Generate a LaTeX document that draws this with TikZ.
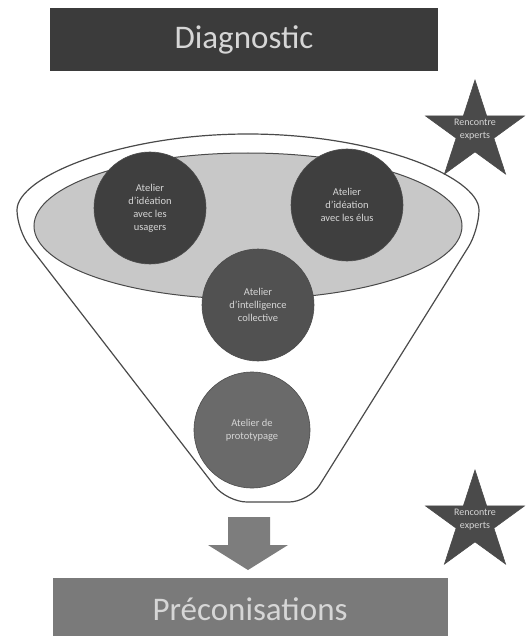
\documentclass[tikz,border=0pt]{standalone}
\usepackage{fontspec}
\setmainfont{Carlito}
\usetikzlibrary{shapes.geometric}
\definecolor{diagc}{HTML}{3B3B3B}
\definecolor{precc}{HTML}{7A7A7A}
\definecolor{arrowc}{HTML}{7D7D7D}
\definecolor{cdark}{HTML}{3F3F3F}
\definecolor{cmid}{HTML}{515151}
\definecolor{clight}{HTML}{6A6A6A}
\definecolor{starc}{HTML}{4A4A4A}
\definecolor{ellc}{HTML}{C8C8C8}
\definecolor{linec}{HTML}{4A4A4A}
\definecolor{txtc}{HTML}{D6D6D6}
\begin{document}
\begin{tikzpicture}[x=1pt,y=-1pt,
  banner/.style={rectangle, inner sep=0pt, draw=none},
  bannertext/.style={anchor=base, text=txtc, font=\fontsize{33}{36}\selectfont},
  circ/.style={circle, inner sep=0pt, minimum size=112pt, draw=black!70, line width=0.6pt,
    text=txtc, align=center, font=\fontsize{10.5}{13}\selectfont},
  starbox/.style={star, star points=5, star point ratio=2.618, minimum size=104pt, inner sep=0pt,
    fill=starc, draw=black!70, line width=0.6pt},
  startext/.style={text=txtc, align=center, font=\fontsize{10}{13}\selectfont},
  funnel/.style={draw=linec, line width=1.2pt, fill=white},
]
\useasboundingbox (0,0) rectangle (531,639);
% banners
\node[banner, fill=diagc, minimum width=388pt, minimum height=63pt] (diag) at (244,39.5) {};
\node[bannertext] (diagt) at (244,49) {Diagnostic};
\node[banner, fill=precc, minimum width=395pt, minimum height=58pt] (prec) at (250.5,607) {};
\node[bannertext] (prect) at (250,620) {Préconisations};
% funnel
\draw[funnel, rounded corners=20pt] (17,230) arc[start angle=180, end angle=360, x radius=231, y radius=96]
  -- (309,502) -- (227,502) -- cycle;
\draw[draw=linec, line width=1pt, fill=ellc] (248,226) ellipse [x radius=214, y radius=73];
% circles
\node[circ, fill=cdark] (c1) at (150,208) {Atelier\\d'idéation\\avec les\\usagers};
\node[circ, fill=cdark] (c2) at (347,205) {Atelier\\d'idéation\\avec les élus};
\node[circ, fill=cmid] (c3) at (258,305) {Atelier\\d'intelligence\\collective};
\node[circ, fill=clight, minimum size=116pt] (c4) at (252,430) {Atelier de\\prototypage};
% arrow
\fill[arrowc] (228,517) -- (270,517) -- (270,545) -- (288,545) -- (248,570) -- (208,545) -- (228,545) -- cycle;
% stars
\node[starbox] (s1) at (475,132) {};
\node[startext] (s1t) at (475,130) {Rencontre\\experts};
\node[starbox] (s2) at (475,522) {};
\node[startext] (s2t) at (475,520) {Rencontre\\experts};
\end{tikzpicture}
\end{document}
